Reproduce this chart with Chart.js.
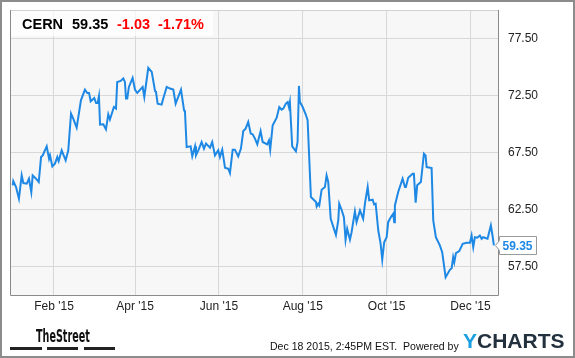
<!DOCTYPE html>
<html>
<head>
<meta charset="utf-8">
<title>CERN</title>
<script src="https://cdn.jsdelivr.net/npm/chart.js@4.4.1/dist/chart.umd.min.js"></script>
<style>
    html, body { margin: 0; padding: 0; background: #fff; }
    #wrap { position: relative; width: 575px; height: 358px; overflow: hidden; font-family: "Liberation Sans", Arial, sans-serif; }
    #priceChart { position: absolute; left: 0; top: 0; }
    #frame { position: absolute; left: 0; top: 0; width: 575px; height: 358px; box-sizing: border-box; border: 2px solid #8c8c8c; pointer-events: none; }
    #header { position: absolute; left: 11px; top: 11px; width: 202px; height: 25px; background: rgba(255, 255, 255, 0.7); }
    #header span { position: absolute; top: 4px; font-size: 14.5px; line-height: 18px; font-weight: bold; white-space: nowrap; }
    .up { color: #000; }
    .down { color: #f00; }
    #street { position: absolute; left: 36px; top: 326px; font-family: "Liberation Sans Narrow", "DejaVu Sans Condensed", sans-serif; font-weight: bold; font-size: 18px; line-height: 20px; color: #111; transform-origin: 0 0; white-space: nowrap; }
    .bar { position: absolute; top: 347px; height: 3px; background: #222; }
    #stamp { position: absolute; left: 270px; top: 340px; font-size: 11.5px; line-height: 12px; color: #111; white-space: nowrap; transform-origin: 0 0; }
    #ycharts { position: absolute; left: 463px; top: 330px; font-size: 21px; line-height: 22px; font-weight: bold; white-space: nowrap; color: #23313f; }
    #ycharts b { color: #1a9fe0; }
</style>
</head>
<body>
<div id="wrap">
    <canvas id="priceChart" width="575" height="358"></canvas>
    <div id="header">
        <span class="up" style="left:11px">CERN</span>
        <span class="up" style="left:61px">59.35</span>
        <span class="down" style="left:106px">-1.03</span>
        <span class="down" style="left:147px">-1.71%</span>
    </div>
    <div id="street">TheStreet</div>
    <div class="bar" style="left:10px; width:32px"></div>
    <div class="bar" style="left:47px; width:31px"></div>
    <div class="bar" style="left:84px; width:31px"></div>
    <div id="stamp">Dec 18 2015, 2:45PM EST.&nbsp; Powered by</div>
    <div id="ycharts"><b>Y</b>CHARTS</div>
    <div id="frame"></div>
</div>
<script>
// Cours de clôture CERN 2015 (jour = nombre de jours depuis le 1er janvier)
const tradingDays = [
    1, 1.4, 3.4, 5.5, 7.5, 8.7, 11.2, 12.8, 14.5, 15.5, 17.9, 19.9, 21.6, 22.8, 25.7, 27.4, 28.1, 29.8,
    31.7, 33.4, 34.4, 36.6, 39.5, 41.4, 43.4, 45.0, 47.5, 50.6, 53.5, 55.2, 56.5, 57.7, 60.3, 61.6, 62.8,
    63.7, 64.5, 66.9, 68.8, 70.5, 71.7, 74.6, 76.1, 77.0, 79.5, 81.4, 82.6, 83.4, 84.3, 85.5, 88.2, 89.9,
    91.6, 95.5, 96.7, 99.6, 102.1, 104.5, 105.2, 106.4, 109.3, 110.5, 113.0, 115.4, 117.8, 119.5, 123.4,
    125.6, 126.3, 127.5, 130.4, 131.6, 133.6, 134.3, 136.0, 138.4, 140.1, 141.6, 144.5, 146.1, 148.1,
    150.5, 151.7, 153.4, 155.4, 157.8, 159.0, 161.0, 162.6, 165.0, 167.0, 168.7, 170.4, 172.3, 174.1,
    175.5, 177.2, 178.9, 181.3, 182.8, 186.1, 187.4, 188.3, 190.1, 193.0, 194.9, 196.6, 197.8, 199.7,
    201.0, 201.9, 202.6, 204.3, 207.0, 208.2, 209.2, 209.9, 211.9, 214.1, 215.5, 217.9, 221.6, 222.1,
    223.2, 224.0, 225.7, 228.1, 229.3, 230.5, 232.3, 236.1, 237.8, 238.5, 240.2, 241.9, 243.1, 244.3,
    246.3, 247.5, 249.9, 251.1, 253.6, 255.9, 257.2, 259.2, 260.3, 262.8, 263.9, 265.0, 266.9, 268.6,
    269.8, 271.2, 273.0, 274.1, 276.1, 277.8, 278.5, 279.0, 281.4, 284.6, 286.3, 287.0, 288.7, 291.9,
    292.8, 294.1, 295.2, 297.9, 300.1, 301.3, 302.1, 305.7, 306.9, 308.8, 311.7, 313.4, 315.9, 319.0,
    320.3, 321.4, 322.2, 323.4, 325.8, 328.3, 331.2, 333.6, 334.8, 336.0, 337.2, 338.9, 340.8, 342.1,
    343.2, 346.4, 348.8, 350.0, 351
];
const closePrices = [
    64.62, 64.99, 64.47, 63.45, 65.49, 64.82, 64.76, 65.20, 64.03, 65.49, 65.20, 64.91, 67.10, 67.25, 68.04, 66.96, 67.25, 66.28,
    66.52, 67.10, 66.75, 67.69, 66.81, 67.69, 70.91, 70.47, 69.68, 72.08, 73.02, 72.72, 72.72, 71.99, 72.28, 71.84, 71.84,
    72.43, 69.95, 69.97, 69.53, 70.85, 70.39, 71.49, 71.35, 73.69, 73.78, 73.99, 73.69, 72.23, 72.23, 73.25, 74.04, 73.02,
    72.72, 73.25, 72.37, 74.92, 74.57, 72.90, 72.81, 71.79, 71.70, 72.23, 73.25, 73.11, 73.02, 71.79, 73.02,
    71.21, 71.05, 67.98, 68.04, 67.16, 68.04, 67.25, 67.69, 68.42, 67.84, 68.28, 67.93, 68.42, 67.25,
    67.69, 67.10, 67.75, 66.17, 66.08, 65.70, 67.75, 67.75, 67.16, 67.84, 69.38, 69.59, 70.17, 69.16,
    69.10, 68.72, 68.22, 69.38, 68.42, 68.22, 68.57, 67.75, 69.89, 70.56, 71.49, 71.26, 71.35, 71.79,
    71.93, 71.49, 71.93, 68.04, 67.60, 68.42, 73.34, 71.93, 71.49, 70.85, 70.33, 63.59, 63.15, 62.77,
    63.01, 62.86, 64.24, 64.47, 65.49, 64.91, 61.69, 60.27, 61.54, 63.01, 62.48, 61.83, 59.85, 60.81,
    59.85, 60.51, 62.33, 61.39, 62.42, 61.69, 63.01, 64.47, 63.30, 63.36, 62.95, 63.01, 60.66, 59.50,
    58.11, 59.63, 60.07, 61.39, 61.83, 62.13, 61.39, 62.86, 64.03, 65.20, 64.47, 64.47, 65.29, 65.64,
    65.64, 63.10, 64.62, 64.91, 67.40, 67.25, 66.22, 66.13, 61.54, 60.07, 59.35, 58.76, 56.56, 57.21,
    57.35, 58.32, 57.88, 58.67, 58.85, 59.49, 59.58, 59.58, 60.22, 59.20, 60.07, 60.02, 60.22, 59.93,
    60.07, 59.93, 61.10, 60.22, 59.35
];

// Graduations des axes
const xTickDays = [31, 90, 151, 212, 273, 334];
const xTickLabels = ["Feb '15", "Apr '15", "Jun '15", "Aug '15", "Oct '15", "Dec '15"];
const yTickValues = [57.5, 62.5, 67.5, 72.5, 77.5];

const lineColor = '#1e88e5';

// Fond gris de la zone de tracé, cadre et étiquette du dernier cours
const plotDecor = {
    id: 'plotDecor',
    beforeDraw(chart) {
        const { ctx, chartArea: a } = chart;
        ctx.save();
        ctx.fillStyle = '#f7f7f7';
        ctx.fillRect(a.left, a.top, a.right - a.left, a.bottom - a.top);
        ctx.restore();
    },
    afterDraw(chart) {
        const { ctx, chartArea: a } = chart;
        ctx.save();
        ctx.lineWidth = 1;
        ctx.strokeStyle = '#d2d2d2';
        ctx.beginPath();
        ctx.moveTo(a.left, a.top + 0.5);
        ctx.lineTo(a.right, a.top + 0.5);
        ctx.stroke();
        ctx.strokeStyle = '#8a8a8a';
        ctx.beginPath();
        ctx.moveTo(a.left + 0.5, a.top);
        ctx.lineTo(a.left + 0.5, a.bottom + 0.5);
        ctx.lineTo(a.right + 0.5, a.bottom + 0.5);
        ctx.lineTo(a.right + 0.5, a.top);
        ctx.stroke();

        // Étiquette du dernier cours
        const pts = chart.getDatasetMeta(0).data;
        const last = pts[pts.length - 1];
        const py = Math.round(last.y) + 0.5;
        const tip = Math.round(last.x) + 1.5;
        const left = a.right + 1.5;
        const w = 37, h = 18;
        ctx.fillStyle = '#fff';
        ctx.strokeStyle = '#9a9a9a';
        ctx.beginPath();
        ctx.moveTo(tip, py);
        ctx.lineTo(left, py - 5);
        ctx.lineTo(left, py - h / 2);
        ctx.lineTo(left + w, py - h / 2);
        ctx.lineTo(left + w, py + h / 2);
        ctx.lineTo(left, py + h / 2);
        ctx.lineTo(left, py + 5);
        ctx.closePath();
        ctx.fill();
        ctx.stroke();
        ctx.fillStyle = lineColor;
        ctx.font = 'bold 12px "Liberation Sans", Arial, sans-serif';
        ctx.textBaseline = 'middle';
        ctx.fillText(closePrices[closePrices.length - 1].toFixed(2), left + 3, py + 1);
        ctx.restore();
    }
};

const tickFont = { family: '"Liberation Sans", Arial, sans-serif', size: 12 };

new Chart(document.getElementById('priceChart').getContext('2d'), {
    type: 'line',
    data: {
        datasets: [{
            data: tradingDays.map((d, i) => ({ x: d, y: closePrices[i] })),
            borderColor: lineColor,
            borderWidth: 2,
            pointRadius: 0,
            tension: 0,
            fill: false
        }]
    },
    options: {
        responsive: false,
        animation: false,
        devicePixelRatio: 1,
        layout: { padding: { left: 10, top: 10, right: 0, bottom: 0 } },
        plugins: {
            legend: { display: false },
            tooltip: { enabled: false }
        },
        scales: {
            x: {
                type: 'linear',
                min: -1,
                max: 354,
                afterBuildTicks: scale => { scale.ticks = xTickDays.map(v => ({ value: v })); },
                afterFit: scale => {
                    scale.height = 63;
                    scale.paddingLeft = 0;
                    scale.paddingRight = 0;
                },
                ticks: {
                    autoSkip: false,
                    maxRotation: 0,
                    padding: 4,
                    color: '#222',
                    font: tickFont,
                    callback: (value, index) => xTickLabels[index]
                },
                grid: { color: '#d8d8d8', drawTicks: false },
                border: { display: false }
            },
            y: {
                position: 'right',
                min: 55,
                max: 80,
                afterBuildTicks: scale => { scale.ticks = yTickValues.map(v => ({ value: v })); },
                afterFit: scale => {
                    scale.width = 77;
                    scale.paddingTop = 0;
                    scale.paddingBottom = 0;
                },
                ticks: {
                    padding: 10,
                    color: '#222',
                    font: tickFont,
                    callback: value => Number(value).toFixed(2)
                },
                grid: { color: '#d8d8d8', drawTicks: false },
                border: { display: false }
            }
        }
    },
    plugins: [plotDecor]
});

// Textes du pied resserrés à leur largeur d'origine
function fitWidth(id, width) {
    const el = document.getElementById(id);
    el.style.transform = 'scaleX(' + (width / el.offsetWidth).toFixed(3) + ')';
}
fitWidth('street', 54);
fitWidth('stamp', 189);
</script>
</body>
</html>
